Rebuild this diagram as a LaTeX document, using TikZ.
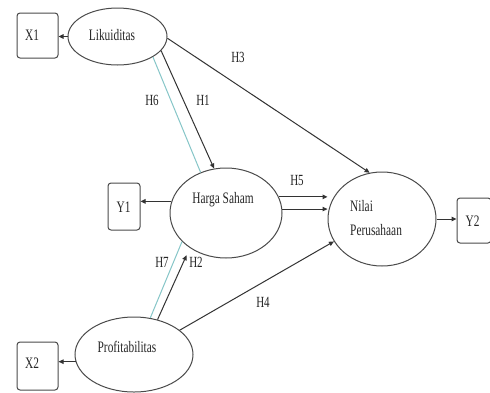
\documentclass[tikz,border=0pt]{standalone}
\usepackage{fontspec}
\setmainfont{Liberation Serif}
\usepackage{graphicx}
\usetikzlibrary{shapes.geometric,arrows.meta}
\definecolor{lc}{HTML}{333333}
\definecolor{ec}{HTML}{4A4A4A}
\definecolor{cyl}{HTML}{86C6C8}
\newcommand{\sqz}[1]{\scalebox{0.71}[1]{#1}}
\tikzset{
  lat/.style={draw=ec, ellipse, inner sep=0pt, line width=1pt},
  ind/.style={draw=ec, rounded corners=3pt, inner sep=0pt, line width=1pt},
  arr/.style={draw=lc, line width=1pt, -{Triangle[length=5pt,width=4.5pt]}},
  cy/.style={draw=cyl, line width=1pt},
  txt/.style={inner sep=0pt, font=\fontsize{16}{16}\selectfont, text=black!85},
  lbl/.style={inner sep=0pt, font=\fontsize{15.5}{15.5}\selectfont, text=black!85}
}
\begin{document}
\begin{tikzpicture}[x=1pt,y=-1pt]
\useasboundingbox (0,0) rectangle (490,392);
\clip (0,0) rectangle (490,392);
\fill[white] (0,0) rectangle (490,392);
% latent variables
\node[lat, minimum width=99pt, minimum height=57pt] (lik) at (117.5,36.5) {};
\node[lat, minimum width=112pt, minimum height=90pt] (hs) at (226,213) {};
\node[lat, minimum width=108pt, minimum height=94pt] (nilai) at (382,219) {};
\node[lat, minimum width=118pt, minimum height=75pt] (prof) at (134,354.5) {};
% indicators
\node[ind, minimum width=41pt, minimum height=45pt] (x1) at (37.5,35.5) {};
\node[ind, minimum width=32pt, minimum height=47pt] (y1) at (124,206.5) {};
\node[ind, minimum width=34pt, minimum height=45pt] (y2) at (474,220.5) {};
\node[ind, minimum width=41pt, minimum height=48pt] (x2) at (37.5,366) {};
% texts
\node[txt] (likt) at (112,35) {\sqz{Likuiditas}};
\node[txt] (hst) at (223,200) {\sqz{Harga Saham}};
\node[txt, anchor=west, align=left, font=\fontsize{16}{24}\selectfont] (nilait) at (350,218) {\sqz{Nilai}\\\sqz{Perusahaan}};
\node[txt] (proft) at (127,347) {\sqz{Profitabilitas}};
\node[txt] (x1t) at (32,35) {\sqz{X1}};
\node[txt] (y1t) at (123.5,207) {\sqz{Y1}};
\node[txt] (y2t) at (472.5,221) {\sqz{Y2}};
\node[txt] (x2t) at (32,363) {\sqz{X2}};
% indicator arrows
\draw[arr] (lik.west) -- (lik.west -| x1.east);
\draw[arr] (hs.168) -- (hs.168 -| y1.east);
\draw[arr] (nilai.east) -- (nilai.east -| y2.west);
\draw[arr] (prof.187) -- (prof.187 -| x2.east);
% structural paths
\draw[cy] (lik.-30) -- (hs.122);
\draw[arr] (lik.-18) -- (hs.105);
\draw[arr] (lik.-2) -- (nilai.105.5);
\draw[arr] (hs.17) -- (hs.17 -| nilai.west);
\draw[arr] (hs.4) -- (hs.4 -| nilai.west);
\draw[cy] (prof.66) -- (hs.-147.5);
\draw[arr, shorten >=8pt] (prof.56) -- (hs.-136);
\draw[arr] (prof.28) -- (nilai.205);
% labels
\node[lbl] (h3) at (238,57) {\sqz{H3}};
\node[lbl] (h6) at (152,100) {\sqz{H6}};
\node[lbl] (h1) at (203,100) {\sqz{H1}};
\node[lbl] (h5) at (297,180) {\sqz{H5}};
\node[lbl] (h4) at (263,302) {\sqz{H4}};
\node[lbl] (h2) at (196,262) {\sqz{H2}};
\node[lbl] (h7) at (162,262) {\sqz{H7}};
\end{tikzpicture}
\end{document}
